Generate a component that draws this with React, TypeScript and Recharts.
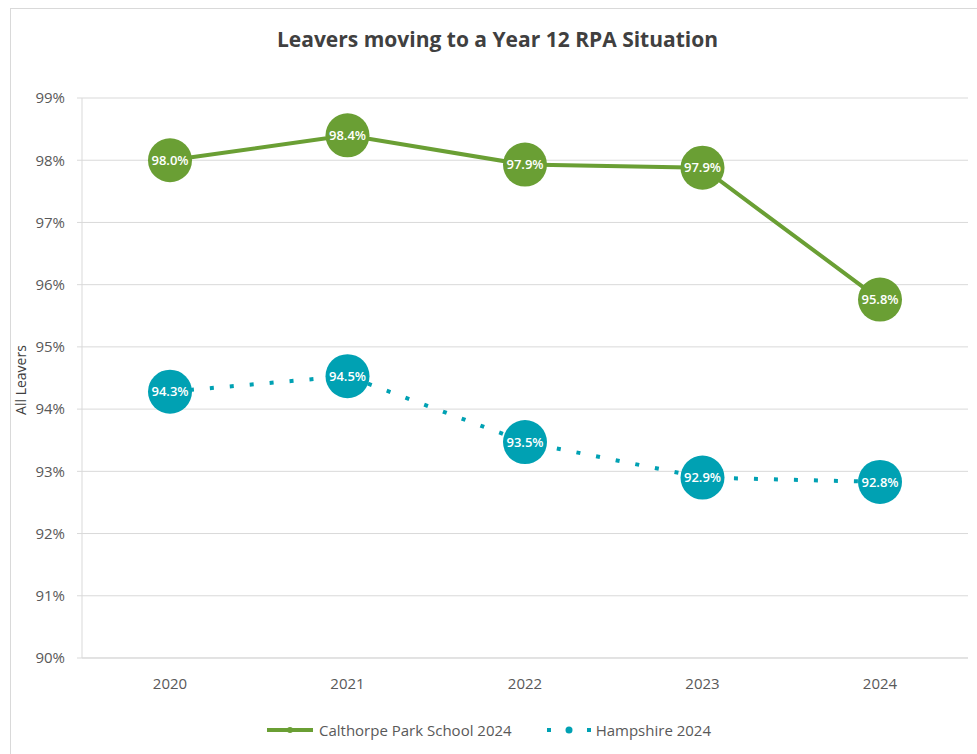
import React from 'react';
import { LineChart, Line, XAxis, YAxis, CartesianGrid, Legend, LabelList } from 'recharts';

const YEARS = ['2020', '2021', '2022', '2023', '2024'];
const CALTHORPE = [98.0, 98.4, 97.93, 97.88, 95.76];
const HAMPSHIRE = [94.28, 94.53, 93.47, 92.9, 92.83];
const Y_TICKS = [90, 91, 92, 93, 94, 95, 96, 97, 98, 99];

const GREEN = '#6a9f34';
const TEAL = '#00a1b3';
const FONT = '"Open Sans", "Noto Sans", sans-serif';

const data = YEARS.map((year, i) => ({
  year,
  calthorpe: CALTHORPE[i],
  hampshire: HAMPSHIRE[i],
}));

const fmt = (v: number) => `${v.toFixed(1)}%`;

const LegendContent = () => (
  <div style={{ height: 40, display: 'flex', alignItems: 'center', justifyContent: 'center', fontFamily: FONT, fontSize: 15, color: '#595959', paddingRight: 14 }}>
    <svg width={50} height={10} style={{ marginRight: 4 }}>
      <line x1={2} y1={5} x2={48} y2={5} stroke={GREEN} strokeWidth={4} />
      <circle cx={25} cy={5} r={3} fill={GREEN} />
    </svg>
    <span>Calthorpe Park School 2024</span>
    <svg width={50} height={12} style={{ marginLeft: 30, marginRight: 4 }}>
      <rect x={5} y={4} width={4} height={4} fill={TEAL} />
      <circle cx={27} cy={6} r={3.5} fill={TEAL} />
      <rect x={45} y={4} width={4} height={4} fill={TEAL} />
    </svg>
    <span>Hampshire 2024</span>
  </div>
);

export default function App() {
  return (
    <div style={{ position: 'absolute', left: 0, top: 0, width: 977, height: 754, background: '#fff', overflow: 'hidden' }}>
      <div style={{ position: 'absolute', left: 10, top: 8, width: 990, height: 780, border: '1px solid #d9d9d9', boxSizing: 'border-box' }} />
      <div style={{ position: 'absolute', left: 10, width: 975, top: 25, textAlign: 'center', fontFamily: FONT, fontWeight: 700, fontSize: 21, color: '#404040' }}>
        Leavers moving to a Year 12 RPA Situation
      </div>
      <div style={{ position: 'absolute', left: 20, top: 380, transform: 'translate(-50%, -50%) rotate(-90deg)', fontFamily: FONT, fontSize: 14, color: '#404040', whiteSpace: 'nowrap' }}>
        All Leavers
      </div>
      <div style={{ position: 'absolute', left: 0, top: 0 }}>
        <LineChart width={977} height={754} data={data} margin={{ top: 98, right: 9, left: 22, bottom: 4 }}>
          <CartesianGrid vertical={false} stroke="#d9d9d9" />
          <XAxis
            dataKey="year"
            height={52}
            padding={{ left: 88, right: 88 }}
            axisLine={{ stroke: '#d9d9d9' }}
            tickLine={false}
            tickSize={0}
            tickMargin={20}
            tick={{ fill: '#595959', fontSize: 15, fontFamily: FONT }}
          />
          <YAxis
            width={60}
            domain={[90, 99]}
            ticks={Y_TICKS}
            tickFormatter={(v: number) => `${v}%`}
            axisLine={{ stroke: '#d9d9d9' }}
            tickLine={{ stroke: '#d9d9d9' }}
            tickSize={5}
            tickMargin={12}
            tick={{ fill: '#595959', fontSize: 15, fontFamily: FONT }}
          />
          <Legend verticalAlign="bottom" height={40} content={<LegendContent />} />
          <Line
            dataKey="calthorpe"
            name="Calthorpe Park School 2024"
            stroke={GREEN}
            strokeWidth={4}
            type="linear"
            dot={{ r: 22, fill: GREEN, stroke: 'none' }}
            activeDot={false}
            isAnimationActive={false}
          >
            <LabelList dataKey="calthorpe" position="center" formatter={fmt} fill="#fff" fontSize={13} fontWeight={600} fontFamily={FONT} />
          </Line>
          <Line
            dataKey="hampshire"
            name="Hampshire 2024"
            stroke={TEAL}
            strokeWidth={4}
            strokeDasharray="4 16"
            type="linear"
            dot={{ r: 22, fill: TEAL, stroke: 'none', strokeDasharray: '' }}
            activeDot={false}
            isAnimationActive={false}
          >
            <LabelList dataKey="hampshire" position="center" formatter={fmt} fill="#fff" fontSize={13} fontWeight={600} fontFamily={FONT} />
          </Line>
        </LineChart>
      </div>
    </div>
  );
}
